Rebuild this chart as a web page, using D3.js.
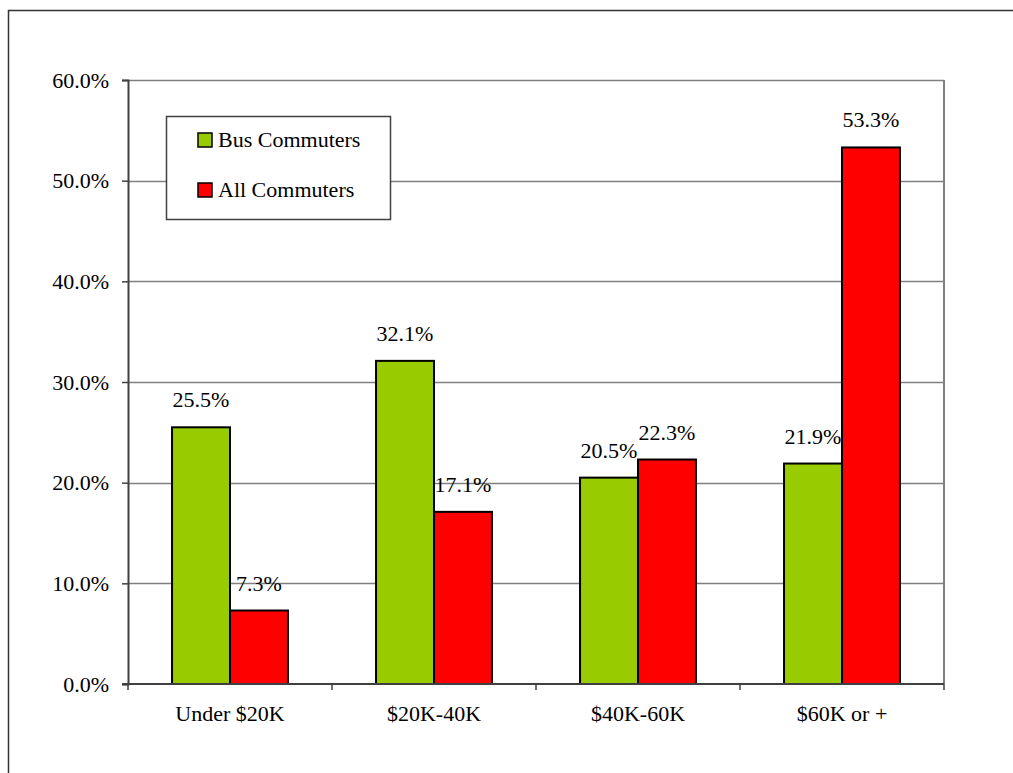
<!DOCTYPE html>
<html>
<head>
<meta charset="utf-8">
<script src="https://cdn.jsdelivr.net/npm/d3@7"></script>
<style>
  body { margin: 0; background: #fff; }
  svg { display: block; }
  text { font-family: "Liberation Serif", "Times New Roman", serif; font-size: 22px; fill: #000; }
</style>
</head>
<body>
<div id="wrapper"></div>
<script>
// data
const categories = ["Under $20K", "$20K-40K", "$40K-60K", "$60K or +"]
const seriesNames = ["Bus Commuters", "All Commuters"]
const busValues = [25.5, 32.1, 20.5, 21.9]
const allValues = [7.3, 17.1, 22.3, 53.3]
const yTicks = [0, 10, 20, 30, 40, 50, 60]
const colors = ["#99cc00", "#ff0000"]

const dataset = categories.map((c, i) => ({
  category: c,
  values: [
    { series: seriesNames[0], value: busValues[i] },
    { series: seriesNames[1], value: allValues[i] },
  ],
}))

// dimensions
const dimensions = {
  width: 1013,
  height: 773,
  margin: { top: 80, right: 69, bottom: 89, left: 128 },
}
dimensions.boundedWidth = dimensions.width - dimensions.margin.left - dimensions.margin.right
dimensions.boundedHeight = dimensions.height - dimensions.margin.top - dimensions.margin.bottom

// canvas
const wrapper = d3.select("#wrapper")
  .append("svg")
    .attr("width", dimensions.width)
    .attr("height", dimensions.height)

// outer frame (runs off the right and bottom edges)
wrapper.append("rect")
    .attr("x", 8.5)
    .attr("y", 10.5)
    .attr("width", 1030)
    .attr("height", 800)
    .attr("fill", "none")
    .attr("stroke", "#333")
    .attr("stroke-width", 1.5)

const bounds = wrapper.append("g")
    .attr("transform", `translate(${dimensions.margin.left}, ${dimensions.margin.top})`)

// scales
const x0 = d3.scaleBand()
  .domain(categories)
  .range([0, dimensions.boundedWidth])

const x1 = d3.scaleBand()
  .domain(seriesNames)
  .range([0, x0.bandwidth()])
  .paddingInner(0)
  .paddingOuter(0.76)

const yScale = d3.scaleLinear()
  .domain([0, 60])
  .range([dimensions.boundedHeight, 0])

const colorScale = d3.scaleOrdinal()
  .domain(seriesNames)
  .range(colors)

// gridlines
bounds.selectAll(".grid")
  .data(yTicks.filter(d => d > 0))
  .enter().append("line")
    .attr("x1", 0)
    .attr("x2", dimensions.boundedWidth)
    .attr("y1", d => Math.round(yScale(d)) + 0.5)
    .attr("y2", d => Math.round(yScale(d)) + 0.5)
    .attr("stroke", "#808080")
    .attr("stroke-width", 1.5)

// right side of plot frame
bounds.append("line")
    .attr("x1", dimensions.boundedWidth)
    .attr("x2", dimensions.boundedWidth)
    .attr("y1", 0)
    .attr("y2", dimensions.boundedHeight)
    .attr("stroke", "#808080")
    .attr("stroke-width", 2)

// bars
const groups = bounds.selectAll(".group")
  .data(dataset)
  .enter().append("g")
    .attr("transform", d => `translate(${x0(d.category)}, 0)`)

groups.selectAll("rect")
  .data(d => d.values)
  .enter().append("rect")
    .attr("x", d => x1(d.series))
    .attr("y", d => yScale(d.value))
    .attr("width", x1.bandwidth())
    .attr("height", d => dimensions.boundedHeight - yScale(d.value))
    .attr("fill", d => colorScale(d.series))
    .attr("stroke", "#000")
    .attr("stroke-width", 2)

groups.selectAll(".value-label")
  .data(d => d.values)
  .enter().append("text")
    .attr("x", d => x1(d.series) + x1.bandwidth() / 2)
    .attr("y", d => yScale(d.value) - 20)
    .attr("text-anchor", "middle")
    .text(d => d3.format(".1f")(d.value) + "%")

// axes
const yAxisGenerator = d3.axisLeft(yScale)
  .tickValues(yTicks)
  .tickSize(6)
  .tickPadding(13)
  .tickFormat(d => d3.format(".1f")(d) + "%")

const yAxis = bounds.append("g")
  .call(yAxisGenerator)
yAxis.select(".domain").attr("stroke", "#404040").attr("stroke-width", 2)
yAxis.selectAll(".tick line").attr("stroke", "#404040").attr("stroke-width", 1.5)
yAxis.selectAll("text")
    .style("font-size", "22px")
    .style("font-family", "Liberation Serif, serif")
    .attr("fill", "#000")

const xAxis = bounds.append("g")
    .attr("transform", `translate(0, ${dimensions.boundedHeight})`)

xAxis.append("line")
    .attr("x1", -6)
    .attr("x2", dimensions.boundedWidth)
    .attr("stroke", "#404040")
    .attr("stroke-width", 2)

// tick marks between categories
xAxis.selectAll(".xtick")
  .data(categories.concat([null]))
  .enter().append("line")
    .attr("x1", (d, i) => i * x0.step())
    .attr("x2", (d, i) => i * x0.step())
    .attr("y1", 0)
    .attr("y2", 6)
    .attr("stroke", "#404040")
    .attr("stroke-width", 1.5)

xAxis.selectAll(".xlabel")
  .data(categories)
  .enter().append("text")
    .attr("x", d => x0(d) + x0.bandwidth() / 2)
    .attr("y", 37)
    .attr("text-anchor", "middle")
    .text(d => d)

// legend
const legend = wrapper.append("g")
    .attr("transform", "translate(166, 116)")

legend.append("rect")
    .attr("x", 0.5)
    .attr("y", 0.5)
    .attr("width", 224)
    .attr("height", 103)
    .attr("fill", "#fff")
    .attr("stroke", "#404040")
    .attr("stroke-width", 1.5)

const legendItems = legend.selectAll(".item")
  .data(seriesNames)
  .enter().append("g")
    .attr("transform", (d, i) => `translate(32, ${17 + i * 50})`)

legendItems.append("rect")
    .attr("width", 14)
    .attr("height", 14)
    .attr("fill", d => colorScale(d))
    .attr("stroke", "#000")
    .attr("stroke-width", 1.5)

legendItems.append("text")
    .attr("x", 20)
    .attr("y", 14)
    .text(d => d)
</script>
</body>
</html>
